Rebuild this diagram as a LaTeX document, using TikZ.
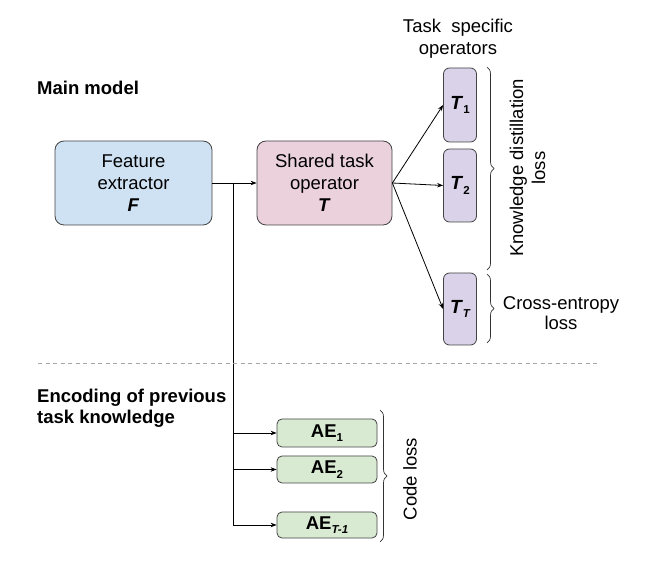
\documentclass[tikz,border=0pt]{standalone}
\usepackage{fontspec}
\setmainfont{Liberation Sans}
\usetikzlibrary{arrows.meta,decorations.pathreplacing}
\definecolor{fblue}{HTML}{CFE2F3}
\definecolor{fpink}{HTML}{EAD1DC}
\definecolor{fviolet}{HTML}{D9D2E9}
\definecolor{fgreen}{HTML}{D9EAD3}
\definecolor{edge}{HTML}{434343}
\tikzset{
  bigbox/.style={draw=edge, line width=0.8pt, rounded corners=9pt, align=center, inner sep=0pt,
    font=\fontsize{18.5}{22}\selectfont},
  opbox/.style={draw=edge, line width=0.8pt, fill=fviolet, rounded corners=6pt, inner sep=0pt,
    minimum width=33pt, font=\fontsize{19}{21}\selectfont},
  aebox/.style={draw=edge, line width=0.8pt, fill=fgreen, rounded corners=5pt, inner sep=0pt,
    minimum width=100pt, font=\fontsize{18.5}{21}\selectfont\bfseries},
  conn/.style={line width=0.8pt, -{Stealth[length=6pt,width=4.5pt]}},
  bracestyle/.style={line width=0.7pt, draw=black!80, decorate, decoration={brace, amplitude=7pt}},
  txt/.style={font=\fontsize{18.5}{22}\selectfont, align=center, inner sep=0pt},
  title/.style={font=\fontsize{18.5}{21}\selectfont\bfseries, align=left, inner sep=0pt, anchor=west},
}
\newcommand{\subsc}[1]{\raisebox{-4.5pt}{\fontsize{11.5}{11.5}\selectfont\bfseries #1}}
\begin{document}
\begin{tikzpicture}[x=1pt,y=-1pt]
\useasboundingbox (0,0) rectangle (646,569);
% titles
\node[title] (mm) at (37,88) {Main model};
\node[title] (enc) at (37,408.5) {Encoding of previous\\task knowledge};
\node[txt] (tso) at (458,39) {Task~~specific\\operators};
% main boxes
\node[bigbox, fill=fblue, minimum width=157pt, minimum height=84pt] (F) at (133.5,183)
  {Feature\\extractor\\\textbf{\textit{F}}};
\node[bigbox, fill=fpink, minimum width=135pt, minimum height=84pt] (T) at (324.5,183)
  {Shared task\\operator\\\textbf{\textit{T}}};
% task specific operators
\node[opbox, minimum height=74pt] (T1) at (460,105) {\textbf{\textit{T}}\subsc{1}};
\node[opbox, minimum height=73pt] (T2) at (460,185.5) {\textbf{\textit{T}}\subsc{2}};
\node[opbox, minimum height=72pt] (TT) at (460,309) {\textbf{\textit{T}}\subsc{\itshape T}};
% AE boxes
\node[aebox, minimum height=28pt] (AE1) at (327,433) {AE\subsc{1}};
\node[aebox, minimum height=27pt] (AE2) at (327,469.5) {AE\subsc{2}};
\node[aebox, minimum height=26pt] (AE3) at (327,525) {AE\subsc{\itshape T-1}};
% connectors
\coordinate (J) at (233,183);
\draw[conn] (F.east) -- (T.west);
\draw[conn] (J) |- (AE1.west);
\draw[conn] (J) |- (AE2.west);
\draw[conn] (J) |- (AE3.west);
\draw[conn] (T.east) -- (T1.west);
\draw[conn] (T.east) -- (T2.west);
\draw[conn] (T.east) -- (TT.west);
% dashed separator
\coordinate (dl) at (38,363);
\coordinate (dr) at (600,363);
\draw[line width=0.9pt, color=black!35, dash pattern=on 4pt off 3.5pt] (dl) -- (dr);
% braces
\coordinate (b1t) at (487,67);
\coordinate (b1b) at (487,270);
\draw[bracestyle] (b1t) -- (b1b);
\coordinate (b2t) at (487,274);
\coordinate (b2b) at (487,343);
\draw[bracestyle] (b2t) -- (b2b);
\coordinate (b3t) at (380,410);
\coordinate (b3b) at (380,542);
\draw[bracestyle] (b3t) -- (b3b);
% brace labels
\node[txt, rotate=90] (kd) at (527.5,168) {Knowledge distillation\\loss};
\node[txt, font=\fontsize{18.5}{20}\selectfont] (ce) at (561,313) {Cross-entropy\\loss};
\node[txt, rotate=90] (cl) at (410,479) {Code loss};
\end{tikzpicture}
\end{document}
